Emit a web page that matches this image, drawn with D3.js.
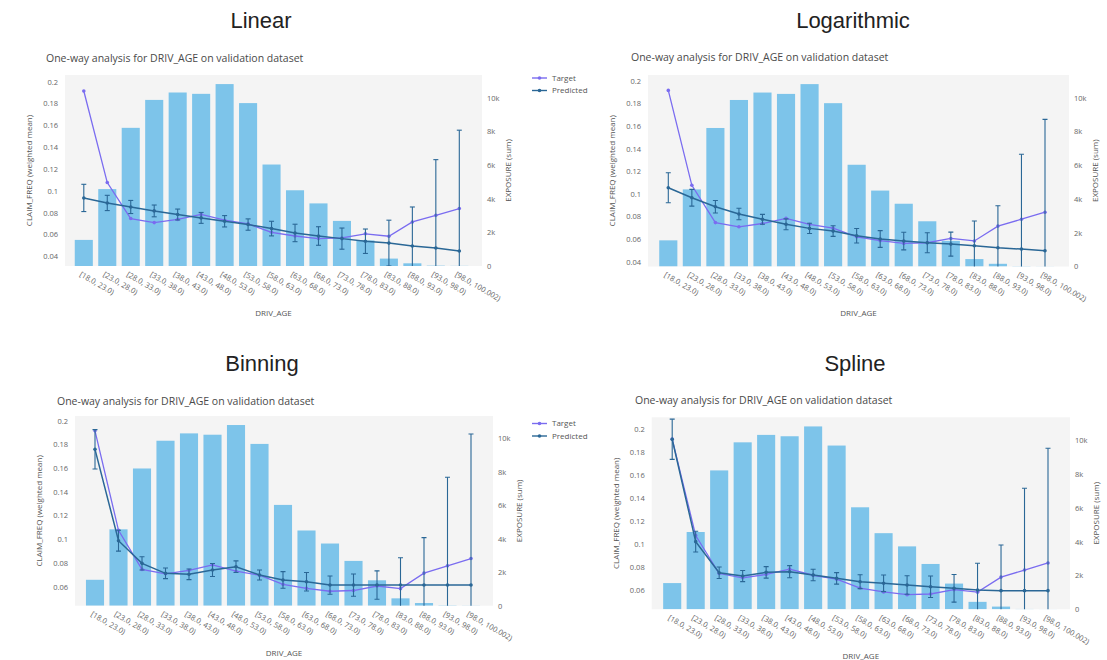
<!DOCTYPE html>
<html>
<head>
<meta charset="utf-8">
<title>One-way analysis for DRIV_AGE</title>
<script src="https://d3js.org/d3.v7.min.js"></script>
<style>
  body { margin: 0; background: #fff; }
  svg text { font-family: "Open Sans", sans-serif; }
</style>
</head>
<body>
<div id="chart"></div>
<script>
// age bands (x categories)
var bins = ["[18.0, 23.0)", "[23.0, 28.0)", "[28.0, 33.0)", "[33.0, 38.0)", "[38.0, 43.0)",
  "[43.0, 48.0)", "[48.0, 53.0)", "[53.0, 58.0)", "[58.0, 63.0)", "[63.0, 68.0)",
  "[68.0, 73.0)", "[73.0, 78.0)", "[78.0, 83.0)", "[83.0, 88.0)", "[88.0, 93.0)",
  "[93.0, 98.0)", "[98.0, 100.002)"];

// exposure (sum) per band - same validation set in every panel
var exposure = [1550, 4570, 8210, 9870, 10310, 10230, 10810, 9680, 6030, 4500, 3720, 2680, 1520, 440, 160, 20, 8];

// observed claim frequency (weighted mean)
var target = [0.1915, 0.1076, 0.0746, 0.0709, 0.0738, 0.0784, 0.0731, 0.0697, 0.0620, 0.0586,
  0.0562, 0.0568, 0.0606, 0.0584, 0.0715, 0.0776, 0.0838];

// predicted claim frequency per model
var linearPred = [0.0935, 0.0889, 0.0852, 0.0816, 0.0783, 0.0752, 0.0721, 0.0691, 0.0654, 0.0614,
  0.0586, 0.0562, 0.0538, 0.0521, 0.0494, 0.0476, 0.0449];
var logPred = [0.1054, 0.0966, 0.0886, 0.0822, 0.0775, 0.0731, 0.0695, 0.0671, 0.0630, 0.0601,
  0.0583, 0.0568, 0.0556, 0.0541, 0.0524, 0.0512, 0.0497];
var binPred = [0.1759, 0.0988, 0.0797, 0.0713, 0.0705, 0.0741, 0.0769, 0.0699, 0.0657, 0.0642,
  0.0614, 0.0614, 0.0614, 0.0614, 0.0614, 0.0614, 0.0614];
var splinePred = [0.1913, 0.1023, 0.0753, 0.0724, 0.0756, 0.0762, 0.0733, 0.0704, 0.0675, 0.0661,
  0.0646, 0.0631, 0.0617, 0.0603, 0.0597, 0.0597, 0.0597];

// error bar half widths on the predicted trace
var linearErr = [0.0125, 0.0070, 0.0060, 0.0054, 0.0050, 0.0050, 0.0052, 0.0052, 0.0067, 0.0080,
  0.0085, 0.0097, 0.0112, 0.0210, 0.0358, 0.0810, 0.1107];
var logErr = [0.0133, 0.0074, 0.0055, 0.0051, 0.0044, 0.0048, 0.0045, 0.0047, 0.0064, 0.0074,
  0.0078, 0.0088, 0.0106, 0.0219, 0.0371, 0.0838, 0.1162];
var binErr = [0.0166, 0.0088, 0.0056, 0.0045, 0.0045, 0.0055, 0.0049, 0.0042, 0.0070, 0.0078,
  0.0077, 0.0094, 0.0120, 0.0230, 0.0400, 0.0910, 0.1274];
var splineErr = [0.0175, 0.0090, 0.0050, 0.0048, 0.0050, 0.0053, 0.0050, 0.0050, 0.0060, 0.0072,
  0.0080, 0.0094, 0.0120, 0.0232, 0.0397, 0.0890, 0.1238];

var legendNames = ["Target", "Predicted"];

// panel layout (pixel boxes of each plotly figure in the screenshot)
var panels = [
  {name: "Linear", pred: linearPred, err: linearErr,
   x0: 65, x1: 482, y0: 75, y1: 266, first: 83.8, last: 459.3, yDomain: [0.0311, 0.2062],
   titleX: 261, titleY: 28, subX: 46, subY: 62, legend: [532, 78]},
  {name: "Logarithmic", pred: logPred, err: logErr,
   x0: 648, x1: 1069, y0: 75, y1: 266.5, first: 668.3, last: 1045, yDomain: [0.0358, 0.2051],
   titleX: 853, titleY: 28, subX: 631, subY: 61, legend: null},
  {name: "Binning", pred: binPred, err: binErr,
   x0: 75, x1: 493, y0: 416, y1: 605.7, first: 95, last: 471, yDomain: [0.044, 0.204],
   titleX: 262, titleY: 371, subX: 57, subY: 405, legend: [532, 423.5]},
  {name: "Spline", pred: splinePred, err: splineErr,
   x0: 651.7, x1: 1070, y0: 417.3, y1: 609.3, first: 672.2, last: 1048, yDomain: [0.0435, 0.2104],
   titleX: 855, titleY: 371, subX: 635, subY: 404, legend: null}
];

var barColor = "#7dc4ea",
    targetColor = "#7a6cf0",
    predColor = "#2a6796",
    textColor = "#666";

var svg = d3.select("#chart").append("svg")
    .attr("width", 1107)
    .attr("height", 660);

panels.forEach(function(p, k) {
  var g = svg.append("g");

  var x = d3.scaleLinear().domain([0, bins.length - 1]).range([p.first, p.last]);
  var y = d3.scaleLinear().domain(p.yDomain).range([p.y1, p.y0]);
  var yExp = d3.scaleLinear().domain([0, 11350]).range([p.y1, p.y0]);
  var bw = (x(1) - x(0)) * 0.77;

  // big title
  g.append("text")
    .attr("x", p.titleX).attr("y", p.titleY)
    .attr("text-anchor", "middle")
    .style("font-family", "'Liberation Sans', Arial, sans-serif")
    .style("font-size", "22px")
    .attr("fill", "#222")
    .text(p.name);

  // plotly title
  g.append("text")
    .attr("x", p.subX).attr("y", p.subY)
    .style("font-size", "10.5px")
    .attr("fill", "#4a4a4a")
    .text("One-way analysis for DRIV_AGE on validation dataset");

  // plot background
  g.append("rect")
    .attr("x", p.x0).attr("y", p.y0)
    .attr("width", p.x1 - p.x0).attr("height", p.y1 - p.y0)
    .attr("fill", "#f4f4f4");

  g.append("clipPath").attr("id", "clip" + k)
    .append("rect")
    .attr("x", p.x0).attr("y", p.y0)
    .attr("width", p.x1 - p.x0).attr("height", p.y1 - p.y0);

  var plot = g.append("g").attr("clip-path", "url(#clip" + k + ")");

  // exposure bars
  plot.selectAll(".bar")
    .data(exposure)
    .join("rect")
      .attr("x", function(d, i) { return x(i) - bw / 2; })
      .attr("y", function(d) { return yExp(d); })
      .attr("width", bw)
      .attr("height", function(d) { return p.y1 - yExp(d); })
      .attr("fill", barColor);

  var line = d3.line()
    .x(function(d, i) { return x(i); })
    .y(function(d) { return y(d); });

  // target
  plot.append("path")
    .datum(target)
    .attr("d", line)
    .attr("fill", "none")
    .attr("stroke", targetColor)
    .attr("stroke-width", 1.3);
  plot.selectAll(".tdot")
    .data(target)
    .join("circle")
      .attr("cx", function(d, i) { return x(i); })
      .attr("cy", function(d) { return y(d); })
      .attr("r", 1.8)
      .attr("fill", targetColor);

  // predicted with error bars
  var eb = plot.selectAll(".err")
    .data(p.pred)
    .join("g")
      .attr("stroke", predColor)
      .attr("stroke-width", 1.1);
  eb.append("line")
    .attr("x1", function(d, i) { return x(i); })
    .attr("x2", function(d, i) { return x(i); })
    .attr("y1", function(d, i) { return y(d + p.err[i]); })
    .attr("y2", function(d, i) { return y(d - p.err[i]); });
  eb.append("line")
    .attr("x1", function(d, i) { return x(i) - 2.5; })
    .attr("x2", function(d, i) { return x(i) + 2.5; })
    .attr("y1", function(d, i) { return y(d + p.err[i]); })
    .attr("y2", function(d, i) { return y(d + p.err[i]); });
  eb.append("line")
    .attr("x1", function(d, i) { return x(i) - 2.5; })
    .attr("x2", function(d, i) { return x(i) + 2.5; })
    .attr("y1", function(d, i) { return y(d - p.err[i]); })
    .attr("y2", function(d, i) { return y(d - p.err[i]); });

  plot.append("path")
    .datum(p.pred)
    .attr("d", line)
    .attr("fill", "none")
    .attr("stroke", predColor)
    .attr("stroke-width", 1.5);
  plot.selectAll(".pdot")
    .data(p.pred)
    .join("circle")
      .attr("cx", function(d, i) { return x(i); })
      .attr("cy", function(d) { return y(d); })
      .attr("r", 1.8)
      .attr("fill", predColor);

  // left axis
  var ax = g.append("g")
    .attr("transform", "translate(" + (p.x0 - 4) + ",0)")
    .call(d3.axisLeft(y).ticks(8).tickFormat(d3.format("~g")).tickSize(0));
  // right axis
  var ar = g.append("g")
    .attr("transform", "translate(" + (p.x1 + 2) + ",0)")
    .call(d3.axisRight(yExp).ticks(6).tickFormat(d3.format("~s")).tickSize(0));
  [ax, ar].forEach(function(a) {
    a.select(".domain").remove();
    a.selectAll("text")
      .attr("fill", textColor)
      .style("font-family", "'Open Sans', sans-serif")
      .style("font-size", "7.5px");
  });

  // x tick labels, rotated
  g.selectAll(".xlab")
    .data(bins)
    .join("text")
      .attr("transform", function(d, i) {
        return "translate(" + (x(i) - 2) + "," + (p.y1 + 5) + ") rotate(30)";
      })
      .attr("dy", "0.75em")
      .attr("fill", textColor)
      .style("font-size", "7.5px")
      .text(function(d) { return d; });

  // axis titles
  g.append("text")
    .attr("transform", "translate(" + (p.x0 - 36) + "," + ((p.y0 + p.y1) / 2) + ") rotate(-90)")
    .attr("text-anchor", "middle")
    .attr("dy", "0.35em")
    .attr("fill", "#555")
    .style("font-size", "8px")
    .text("CLAIM_FREQ (weighted mean)");
  g.append("text")
    .attr("transform", "translate(" + (p.x1 + 26) + "," + ((p.y0 + p.y1) / 2) + ") rotate(-90)")
    .attr("text-anchor", "middle")
    .attr("dy", "0.35em")
    .attr("fill", "#555")
    .style("font-size", "8px")
    .text("EXPOSURE (sum)");
  g.append("text")
    .attr("x", (p.x0 + p.x1) / 2)
    .attr("y", p.y1 + 47)
    .attr("text-anchor", "middle")
    .attr("dy", "0.35em")
    .attr("fill", "#555")
    .style("font-size", "8px")
    .text("DRIV_AGE");

  // legend (only visible for the left-hand figures)
  if (p.legend) {
    var lg = g.append("g")
      .attr("transform", "translate(" + p.legend[0] + "," + p.legend[1] + ")");
    var items = lg.selectAll("g")
      .data(legendNames)
      .join("g")
        .attr("transform", function(d, i) { return "translate(0," + (i * 12.5) + ")"; });
    items.append("line")
      .attr("x1", 0).attr("x2", 15)
      .attr("stroke", function(d, i) { return i === 0 ? targetColor : predColor; })
      .attr("stroke-width", 1.4);
    items.append("circle")
      .attr("cx", 7.5).attr("r", 1.8)
      .attr("fill", function(d, i) { return i === 0 ? targetColor : predColor; });
    items.append("text")
      .attr("x", 20)
      .attr("dy", "0.35em")
      .attr("fill", "#555")
      .style("font-size", "8px")
      .text(function(d) { return d; });
  }
});
</script>
</body>
</html>
